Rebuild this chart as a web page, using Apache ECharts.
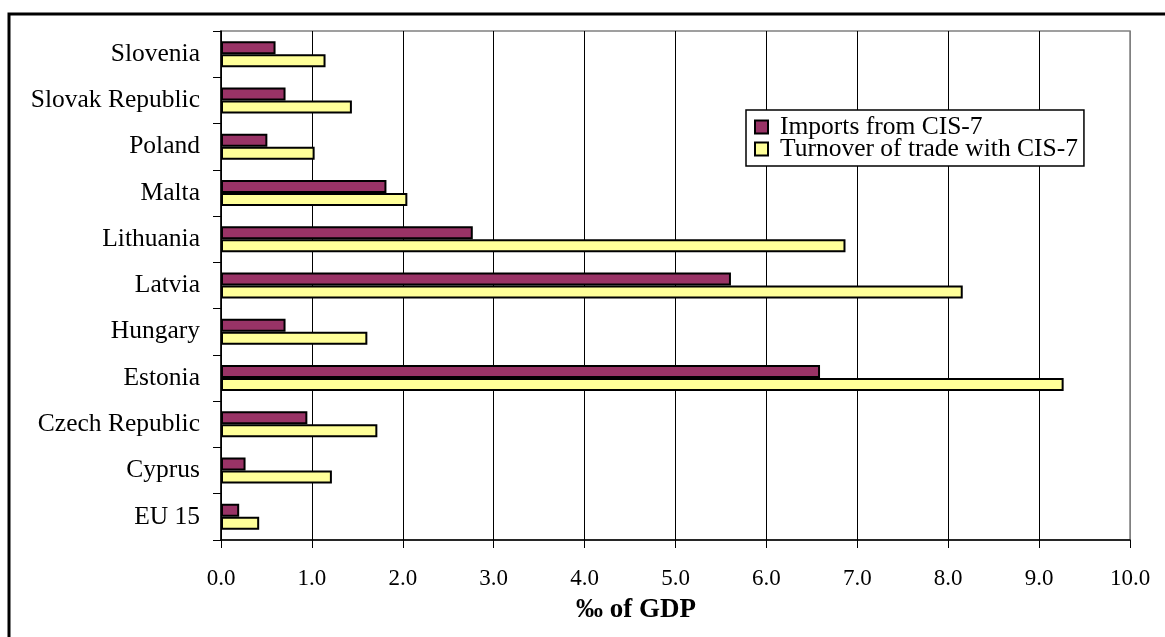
<!DOCTYPE html>
<html>
<head>
<meta charset="utf-8">
<script src="https://cdn.jsdelivr.net/npm/echarts@6/dist/echarts.min.js"></script>
<style>
  html, body { margin: 0; padding: 0; background: #fff; }
  #chart { width: 1165px; height: 637px; }
</style>
</head>
<body>
<div id="chart"></div>
<script>
// categories, bottom to top
var countries = ['EU 15', 'Cyprus', 'Czech Republic', 'Estonia', 'Hungary', 'Latvia',
                 'Lithuania', 'Malta', 'Poland', 'Slovak Republic', 'Slovenia'];
// per mille of GDP
var importsCIS = [0.20, 0.27, 0.95, 6.59, 0.71, 5.61, 2.77, 1.82, 0.51, 0.71, 0.60];
var turnoverCIS = [0.42, 1.22, 1.72, 9.27, 1.61, 8.16, 6.87, 2.05, 1.03, 1.44, 1.15];
var seriesNames = ['Imports from CIS-7', 'Turnover of trade with CIS-7'];

(function(){
	var font = 'Liberation Serif, Times New Roman, serif';
	var gridColors = ['#000','#000','#000','#000','#000','#000','#000','#000','#000','#000','#808080'];

	var option = {
		animation: false,
		textStyle: { fontFamily: font, color: '#000' },
		title: {
			text: '‰ of GDP',
			left: 576,
			top: 597,
			padding: 0,
			textStyle: { fontFamily: font, fontSize: 27, fontWeight: 'bold', color: '#000' }
		},
		legend: {
			data: seriesNames,
			orient: 'vertical',
			left: 746,
			top: 110,
			padding: [4, 6, 4, 8],
			itemGap: -4,
			itemWidth: 13,
			itemHeight: 13,
			icon: 'rect',
			backgroundColor: '#fff',
			borderColor: '#000',
			borderWidth: 1.5,
			borderRadius: 0,
			textStyle: { fontFamily: font, fontSize: 25.5, color: '#000', padding: [0, 0, 0, 7] }
		},
		grid: {
			left: 221,
			right: 35,
			top: 31,
			bottom: 97,
			show: true,
			borderColor: '#808080',
			borderWidth: 1.5,
			backgroundColor: 'transparent'
		},
		xAxis: {
			type: 'value',
			min: 0,
			max: 10,
			interval: 1,
			axisLine: { show: true, lineStyle: { color: '#000', width: 1.5 } },
			axisTick: { show: true, length: 8, lineStyle: { color: '#000', width: 1 } },
			axisLabel: {
				margin: 27,
				fontFamily: font,
				fontSize: 23,
				color: '#000',
				formatter: function(v){ return v.toFixed(1); }
			},
			splitLine: { show: true, lineStyle: { color: gridColors, width: 1 } }
		},
		yAxis: {
			type: 'category',
			data: countries,
			axisLine: { show: true, lineStyle: { color: '#000', width: 1.5 } },
			axisTick: { show: true, length: 8, lineStyle: { color: '#000', width: 1 } },
			axisLabel: { margin: 21, fontFamily: font, fontSize: 25.5, color: '#000' },
			splitLine: { show: false }
		},
		series: [
			{
				name: seriesNames[0],
				type: 'bar',
				data: importsCIS,
				barWidth: 13,
				barGap: '0%',
				itemStyle: { color: '#993366', borderColor: '#000', borderWidth: 2 }
			},
			{
				name: seriesNames[1],
				type: 'bar',
				data: turnoverCIS,
				barWidth: 13,
				barGap: '0%',
				itemStyle: { color: '#FFFF99', borderColor: '#000', borderWidth: 2 }
			}
		],
		graphic: [
			{
				type: 'rect',
				shape: { x: 9, y: 14, width: 1200, height: 700 },
				style: { fill: 'none', stroke: '#000', lineWidth: 3 },
				silent: true,
				z: 100
			}
		]
	};

	var myChart = echarts.init(document.getElementById('chart'));
	myChart.setOption(option);
})();
</script>
</body>
</html>
